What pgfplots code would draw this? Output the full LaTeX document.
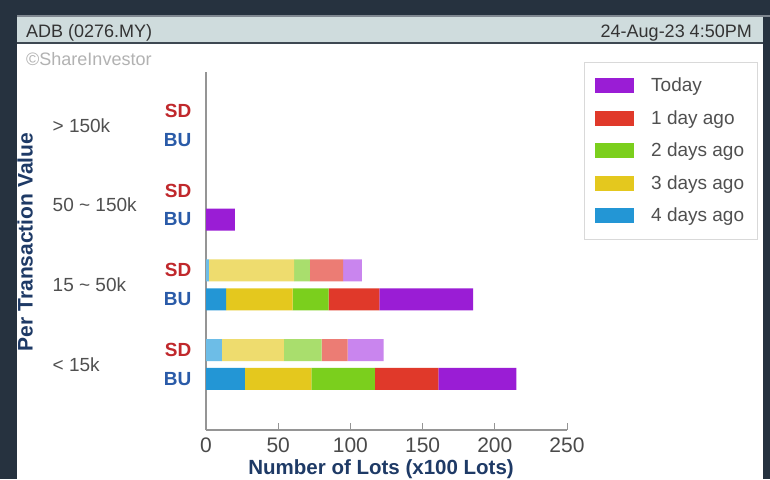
\documentclass[border=0pt]{standalone}
\usepackage{fontspec}
\setmainfont{Liberation Sans}
\usepackage{pgfplots}
\usepackage{pgfplotstable}
\pgfplotsset{compat=1.18}
\definecolor{bg}{HTML}{26323F}
\definecolor{hdr}{HTML}{CFDCDD}
\definecolor{hdrline}{HTML}{7F8790}
\definecolor{hdrdark}{HTML}{3E4852}
\definecolor{axisgray}{HTML}{959595}
\definecolor{tickgray}{HTML}{4A4A4A}
\definecolor{catgray}{HTML}{505050}
\definecolor{labelblue}{HTML}{1E3A66}
\definecolor{sdcol}{HTML}{C0282C}
\definecolor{bucol}{HTML}{2A5BA8}
\definecolor{bu4}{HTML}{2396D5}
\definecolor{bu3}{HTML}{E4C81E}
\definecolor{bu2}{HTML}{7BCF1D}
\definecolor{bu1}{HTML}{E0392A}
\definecolor{bu0}{HTML}{9A1DD5}
\definecolor{sd4}{HTML}{6DBDE7}
\definecolor{sd3}{HTML}{EEDC6E}
\definecolor{sd2}{HTML}{A9DE6D}
\definecolor{sd1}{HTML}{EC7C74}
\definecolor{sd0}{HTML}{C985EE}
\newcommand\fs[1]{\fontsize{#1pt}{#1pt}\selectfont}
\pgfplotstableread{
y b4 b3 b2 b1 b0 s4 s3 s2 s1 s0
0 27 46 44 44 54 0 0 0 0 0
1 0 0 0 0 0 11 43 26 18 25
2.75 14 46 25 35 65 0 0 0 0 0
3.75 0 0 0 0 0 2 59 11 23 13
5.5 0 0 0 0 20 0 0 0 0 0
6.5 0 0 0 0 0 0 0 0 0 0
8.25 0 0 0 0 0 0 0 0 0 0
9.25 0 0 0 0 0 0 0 0 0 0
}\data
\begin{document}
\begin{tikzpicture}
\useasboundingbox (0pt,0pt) rectangle (770pt,-479pt);
\begin{scope}[x=1pt,y=-1pt]
\fill[bg] (0,0) rectangle (770,479);
\fill[white] (17,44) rectangle (763,479);
\fill[hdrline] (17,15) rectangle (770,17);
\fill[hdr] (17,17) rectangle (763,42);
\fill[hdrdark] (17,42) rectangle (763,44);
\node[anchor=base west, inner sep=0pt, text=black!80, font=\fs{18}] at (26,37.5) {ADB (0276.MY)};
\node[anchor=base east, inner sep=0pt, text=black!80, font=\fs{18}] at (752,37.5) {24-Aug-23 4:50PM};
\node[anchor=base west, inner sep=0pt, text=black!30, font=\fs{18}] at (26,65) {©ShareInvestor};
\coordinate (A) at (206,430);
\end{scope}
\begin{axis}[
  at={(A)}, anchor=south west, scale only axis, width=361pt, height=358pt,
  xbar stacked, bar width=22pt,
  xmin=0, xmax=250, ymin=-1.76, ymax=10.59,
  axis x line=bottom, axis y line=left,
  axis line style={-, draw=axisgray, line width=1.6pt},
  xtick={0,50,...,250}, xtick align=inside, major tick length=7pt,
  xtick style={draw=axisgray, line width=1pt},
  /pgf/number format/assume math mode=true,
  xticklabel style={font=\fs{21}, text=tickgray, anchor=north, inner sep=0pt, yshift=-8pt},
  ytick={0,1,2.75,3.75,5.5,6.5,8.25,9.25},
  yticklabels={\textcolor{bucol}{BU},\textcolor{sdcol}{SD},\textcolor{bucol}{BU},\textcolor{sdcol}{SD},\textcolor{bucol}{BU},\textcolor{sdcol}{SD},\textcolor{bucol}{BU},\textcolor{sdcol}{SD}},
  ytick style={draw=none},
  yticklabel style={font=\bfseries\fs{19}, anchor=east, inner sep=0pt, xshift=-11pt},
  extra y ticks={0.5,3.25,6,8.75},
  extra y tick labels={{< 15k},{15 \textasciitilde{} 50k},{50 \textasciitilde{} 150k},{> 150k}},
  extra y tick style={ytick style={draw=none}, yticklabel style={anchor=west, xshift=-139pt, font=\fs{19}, text=catgray}},
  xlabel={Number of Lots (x100 Lots)},
  xlabel style={at={(axis description cs:0.485,-0.1229)}, anchor=base, font=\bfseries\fs{20.5}, text=labelblue},
  ylabel={Per Transaction Value},
  ylabel style={at={(axis description cs:-0.501,0.525)}, anchor=center, font=\bfseries\fs{21}, text=labelblue},
  legend style={at={(1.047,1.028)}, anchor=north west, draw=black!15, fill=white, font=\fs{19}, text=catgray, inner xsep=11pt, inner ysep=14pt, row sep=13.2pt, /tikz/every odd column/.append style={column sep=15pt}},
  legend cell align=left,
  reverse legend,
  legend image code/.code={\fill[#1] (0pt,-7.5pt) rectangle (39pt,7.5pt);},
]
\addplot[fill=bu4, draw=none] table[x=b4, y=y] {\data};
\addlegendentry{4 days ago}
\addplot[fill=bu3, draw=none] table[x=b3, y=y] {\data};
\addlegendentry{3 days ago}
\addplot[fill=bu2, draw=none] table[x=b2, y=y] {\data};
\addlegendentry{2 days ago}
\addplot[fill=bu1, draw=none] table[x=b1, y=y] {\data};
\addlegendentry{1 day ago}
\addplot[fill=bu0, draw=none] table[x=b0, y=y] {\data};
\addlegendentry{Today}
\addplot[fill=sd4, draw=none, forget plot] table[x=s4, y=y] {\data};
\addplot[fill=sd3, draw=none, forget plot] table[x=s3, y=y] {\data};
\addplot[fill=sd2, draw=none, forget plot] table[x=s2, y=y] {\data};
\addplot[fill=sd1, draw=none, forget plot] table[x=s1, y=y] {\data};
\addplot[fill=sd0, draw=none, forget plot] table[x=s0, y=y] {\data};
\end{axis}
\end{tikzpicture}
\end{document}
